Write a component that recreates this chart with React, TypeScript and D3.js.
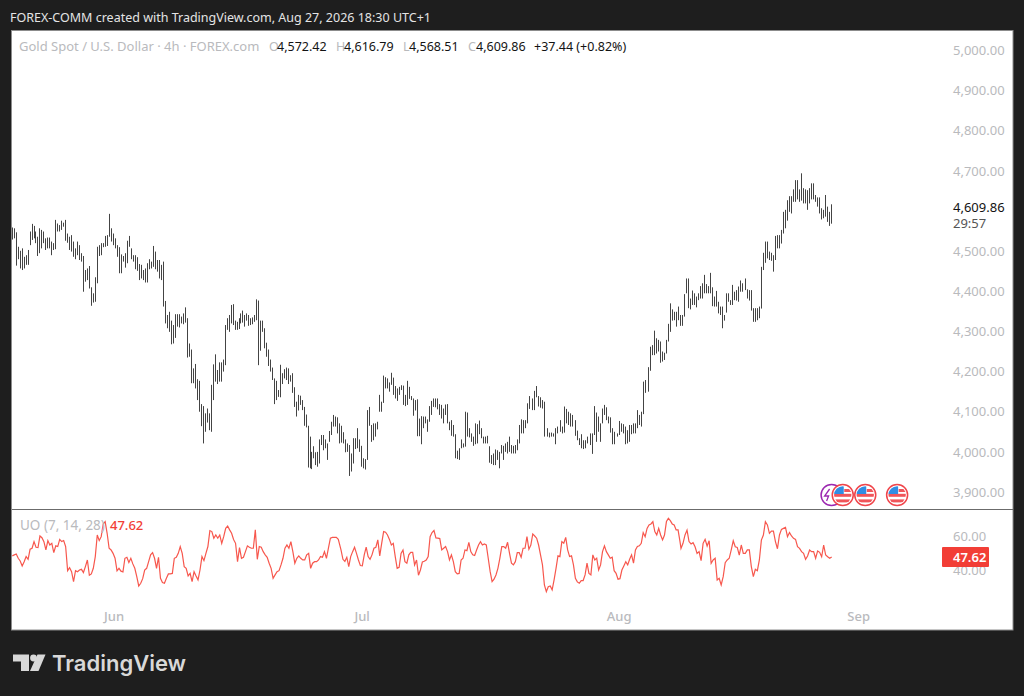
import { useEffect, useRef } from 'react';
import * as d3 from 'd3';

// 4h bars, oldest first
const highs = [
  4559,4557,4547,4511,4501,4507,4486,4490,4503,4549,4568,4563,4549,4536,4557,4553,4549,4532,4534,4534,
  4524,4520,4578,4569,4565,4576,4571,4578,4544,4536,4540,4524,4507,4524,4515,4495,4488,4453,4457,4463,
  4410,4395,4435,4511,4515,4520,4520,4538,4540,4593,4557,4544,4532,4515,4510,4492,4488,4495,4526,4538,
  4507,4490,4490,4485,4468,4466,4453,4457,4470,4480,4474,4513,4499,4478,4478,4466,4474,4376,4341,4349,
  4327,4316,4343,4343,4343,4337,4345,4360,4333,4270,4255,4208,4219,4181,4177,4119,4114,4096,4108,4096,
  4167,4218,4243,4204,4223,4223,4230,4316,4333,4341,4366,4368,4327,4324,4333,4345,4352,4341,4345,4341,
  4333,4335,4341,4380,4377,4327,4327,4308,4272,4255,4230,
  4210,4183,4177,4154,4217,4196,4206,4210,4208,4191,4196,4161,4125,4142,4140,4129,4112,4093,4065,4038,
  4000,4014,3999,4000,4031,4042,4042,4031,4021,4052,4075,4092,4088,4086,4071,4065,4049,4031,4021,4017,
  3996,4034,4034,4059,4031,4015,3984,3982,4104,4112,4067,4071,4071,4075,4142,4125,4190,4186,4183,4173,
  4197,4185,4164,4158,4162,4166,4165,4142,4177,4162,4139,4133,4129,4131,4083,4089,4088,4088,4081,4114,
  4127,4133,4133,4133,4119,4117,4108,4118,4119,4075,4079,4067,4044,4003,4009,4031,4021,4100,4098,4059,
  4046,4038,4071,4069,4078,4059,4038,4038,4040,4014,3992,3996,4006,4004,4000,4017,4015,4021,4025,4038,
  4017,4015,4017,4031,4067,4081,4079,4079,4121,
  4139,4133,4152,4164,4139,4136,4129,4125,4059,4048,4048,4046,4059,4063,4079,4063,4113,4107,4100,4096,
  4092,4079,4053,4034,4044,4029,4029,4038,4046,4046,4114,4098,4088,4071,4108,4117,4111,4088,4086,4059,
  4050,4046,4077,4071,4069,4063,4054,4067,4067,4071,4071,4104,4092,4100,4175,4179,4211,4262,4266,4302,
  4283,4279,4275,4250,4247,4279,4319,4370,4355,4349,4349,4362,4341,4341,4393,4432,4432,4382,4402,4395,
  4387,4395,4413,4420,4441,4418,4413,4446,4410,4387,4401,4374,4362,4362,4341,4395,4395,4378,4416,4399,
  4403,4412,4427,4420,4432,4405,4403,4403,4358,4358,4358,4362,
  4461,4496,4524,4524,4499,4496,4490,4538,4540,4540,4553,4598,4603,4627,4637,4637,4654,4677,4677,4654,
  4694,4657,4654,4652,4657,4669,4669,4640,4634,4634,4607,4603,4640,4611,4598,4616.79,
];

const lows = [
  4529,4532,4464,4480,4457,4453,4457,4466,4466,4515,4528,4532,4520,4488,4495,4507,4520,4503,4507,4507,
  4490,4503,4505,4549,4549,4553,4561,4526,4521,4503,4499,4486,4480,4490,4478,4474,4399,4424,4428,4407,
  4364,4372,4374,4420,4488,4490,4510,4511,4513,4536,4524,4515,4507,4486,4445,4445,4474,4459,4470,4511,
  4480,4474,4455,4451,4428,4432,4428,4422,4422,4455,4457,4461,4455,4449,4432,4428,4362,4320,4308,4299,
  4268,4270,4284,4312,4310,4320,4318,4322,4235,4237,4171,4171,4158,4129,4100,4064,4021,4050,4073,4054,
  4050,4129,4175,4169,4175,4175,4200,4216,4304,4299,4320,4316,4304,4304,4306,4320,4322,4312,4327,4314,
  4316,4318,4324,4328,4216,4252,4299,4258,4237,4214,4200,
  4179,4119,4129,4137,4136,4169,4183,4179,4169,4175,4147,4112,4088,4103,4117,4104,4065,4061,3961,3959,
  3957,3984,3967,3963,3971,4017,4004,4009,3980,4025,4042,4063,4063,4046,4021,4023,4021,3999,4000,3940,
  3951,3971,4007,4009,4000,3963,3959,3956,3980,4065,4025,4029,4038,4056,4100,4100,4122,4158,4158,4150,
  4167,4142,4133,4127,4142,4154,4117,4114,4117,4132,4129,4090,4103,4039,4039,4019,4059,4071,4050,4075,
  4092,4112,4111,4106,4092,4083,4071,4092,4071,4054,4040,4038,3984,3982,3980,4009,4011,4013,4038,4036,
  4025,4015,4019,4021,4044,4034,4021,4021,4021,3973,3970,3967,3967,3980,3959,3996,3980,4000,3996,4000,
  3996,3996,3996,4004,4021,4046,4046,4059,4071,
  4107,4104,4104,4136,4113,4110,4108,4038,4038,4036,4038,4038,4019,4046,4050,4046,4048,4071,4067,4063,
  4063,4040,4029,4017,4009,4007,4009,4021,4017,3995,4042,4025,4050,4025,4071,4092,4079,4071,4048,4019,
  4019,4038,4042,4050,4046,4019,4021,4025,4044,4046,4046,4059,4067,4063,4094,4147,4150,4202,4241,4241,
  4245,4250,4222,4225,4229,4245,4275,4299,4327,4328,4312,4328,4314,4314,4337,4395,4358,4355,4366,4366,
  4360,4378,4382,4382,4395,4395,4395,4395,4363,4362,4362,4345,4341,4308,4327,4347,4374,4366,4366,4378,
  4377,4374,4399,4399,4403,4382,4377,4352,4324,4324,4328,4333,
  4357,4453,4471,4482,4478,4476,4449,4478,4507,4507,4519,4544,4557,4576,4598,4594,4623,4623,4629,4623,
  4626,4619,4619,4603,4619,4629,4629,4623,4611,4594,4579,4582,4586,4573,4563,4568.51,
];

// Ultimate Oscillator
const uoValues = [
  48.3,48.9,49.4,46.9,45.3,42.4,44.9,47.9,46.3,52.2,52.8,56.7,53.4,53.2,60,59,56.7,51.8,57.3,54.7,
  55.7,50.2,54.2,53.8,58,56.7,57.3,53.8,39.6,41.4,39,33.2,39.6,39,40,40.4,38.5,42,45.9,36.9,
  37.7,41,47.9,60.6,57.3,59.6,67.1,68.5,61.6,52.8,51.8,49.8,46.9,39.5,41,39.3,38.9,46.9,47.5,44.4,
  46.9,43.6,41,36.1,30.6,32.2,34.9,40,41,44.9,48.9,50.2,46.9,41,47.5,35.1,32.6,32.2,35.1,37.7,
  37.7,38,46.9,47.5,49.8,53.8,49.8,42,41,36.5,38,33.2,39,36.5,34.2,40,47.9,45.5,49.8,53.8,
  63.2,62.6,58.7,60.6,58.7,60.6,55.7,59.6,64.5,65.9,63.6,61.6,58,55.7,44.9,53.2,46.9,47.5,50.8,54.2,
  53.4,52.8,52.8,63.6,46.3,53.8,53.4,50.8,48.9,47.5,44,41,35.1,37.1,39,39.6,43,46.9,52.8,54.7,
  52.8,56.7,50.8,44,46.9,48.3,46.9,45.9,45.9,48.9,49.8,41,44,44.9,44.9,45.9,47.9,47.5,50.8,46.9,
  52.8,58.7,59.2,59.2,59.2,58,
  51.8,46.3,45.1,47.5,42,47.9,50.8,53.4,49.8,45.9,42.6,42.4,48.9,53.4,47.9,46.3,48.9,52.8,53.4,57.7,
  48.3,55.7,62.6,62.2,60.6,58,54.7,55.7,47.9,41,41.6,49.8,51.8,44.9,44,48.9,50.4,50.4,43,45.9,
  36.9,40,44.7,45.1,45.9,47.9,59.6,62,63.2,58.9,58.7,58.5,51.8,52.8,53.8,50.8,45.9,48.9,44.9,39,
  37.7,38,45.9,46.9,51.8,51.4,56.3,50.8,48.9,48.5,51.8,54.7,56.7,54.7,55.3,54.7,46.9,39,33.2,34.6,
  37.1,41,46.9,53.8,53.8,52.8,56.3,49.8,44,43,44.9,50.2,50.2,47.5,52.8,52.8,59.6,52.2,54.7,61.2,
  60,58.7,54.7,48.9,43,31.2,27.3,30.2,30.6,28.3,34.2,41,48.3,47.9,56.7,55.7,59.2,51.8,47.9,48.3,
  43,35.1,33,32.2,33.8,33.8,37.1,44,38,37.1,48.9,45.9,46.9,40,43,50.8,54.2,50.8,48.9,46.9,
  47.5,39.6,38,34.6,34.9,40,42.4,44.9,43,46.3,48.9,44,51.8,53.8,54.2,55.7,62,59.6,64.5,66.5,
  67.1,68.5,62.6,60.6,64.5,60.6,57.7,60.6,68.5,70.4,69,67.1,66.5,63.6,63.6,56.7,
  52.7,55.7,60.6,63.5,56.7,55.3,56.1,53.7,49.8,50.8,45.5,55.7,58,54.1,57.2,43.9,45.9,46.9,34.1,35.1,
  31.2,36.1,44.3,45.9,46.9,51.8,57.2,53.7,53.3,48.8,54.7,49.8,49.8,51.8,51.8,42,36.1,40.4,39.6,45.9,
  57.6,60.6,68.4,66.5,61.6,62.9,62.9,56.7,52.5,60.6,63.9,64.5,65.1,59.6,62,60,58.6,58,53.7,52.7,
  50.8,49.8,46.3,48.2,51.8,50.8,50.8,46.9,51.2,50.4,47.8,54.7,48.8,47.8,46.9,47.62,
];

const priceTicks = [3900, 4000, 4100, 4200, 4300, 4400, 4500, 4700, 4800, 4900, 5000];
const uoTicks = [40, 60];
const monthLabels = ['Jun', 'Jul', 'Aug', 'Sep'];
const monthPositions = [51.5, 176.2, 302, 420.9]; // in bar numbers, Sep is past the last bar
const flagEvents = [412.9, 424.2, 440.2]; // economic calendar flags, in bar numbers
const lastPrice = 4609.86;
const lastUo = 47.62;
const countdown = '29:57';

const legendItems = [
  { text: 'O', x: 269, value: false }, { text: '4,572.42', x: 277, value: true },
  { text: 'H', x: 336, value: false }, { text: '4,616.79', x: 344, value: true },
  { text: 'L', x: 403, value: false }, { text: '4,568.51', x: 409, value: true },
  { text: 'C', x: 468, value: false }, { text: '4,609.86', x: 476, value: true },
  { text: '+37.44 (+0.82%)', x: 534, value: true },
];

const FONT = '"Noto Sans", sans-serif';
const LIGHT = '#b9babd';

export default function App() {
  const svgRef = useRef<SVGSVGElement>(null);

  useEffect(() => {
    if (!svgRef.current) return;
    const svg = d3.select(svgRef.current);
    svg.selectAll('*').remove();

    // Time scale pinned at a few recognisable bars so the spacing does not drift
    const x = d3.scaleLinear()
      .domain([0, 49, 96, 123, 130, 170, 259, 289, 327, 347, 371, 407])
      .range([12.3, 109, 203.7, 256.7, 270.3, 349.7, 527.7, 592.3, 670.7, 710.3, 759.3, 831]);
    const xUo = d3.scaleLinear()
      .domain([0, 165, 166, 341, 342, uoValues.length - 1])
      .range([12.3, 338.3, 341, 680, 681, 831.7]);
    const y = d3.scaleLinear().domain([3900, 5000]).range([492, 50.5]);
    const yUo = d3.scaleLinear().domain([40, 60]).range([570, 536]);

    // Page and panel
    svg.append('rect').attr('width', 1024).attr('height', 696).attr('fill', '#1e1e1e');
    svg.append('rect').attr('x', 11.5).attr('y', 30.5).attr('width', 1001.5).attr('height', 599.5)
      .attr('fill', '#fff').attr('stroke', '#8c8c8c').attr('stroke-width', 1);
    svg.append('line').attr('x1', 12).attr('x2', 1013).attr('y1', 509.5).attr('y2', 509.5)
      .attr('stroke', '#6b6b6b').attr('stroke-width', 1.2);

    const text = (s: string, px: number, py: number, size: number, fill: string, weight = 400) =>
      svg.append('text').attr('x', px).attr('y', py).attr('fill', fill)
        .attr('font-family', FONT).attr('font-size', size).attr('font-weight', weight).text(s);

    text('FOREX-COMM created with TradingView.com, Aug 27, 2026 18:30 UTC+1', 10, 22, 12.5, '#e4e4e4');
    text('Gold Spot / U.S. Dollar · 4h · FOREX.com', 19, 51, 13, LIGHT);
    legendItems.forEach(d => text(d.text, d.x, 51, 12.5, d.value ? '#131313' : LIGHT));

    // OHLC bars: high-low stems, kept on pixel centres so they stay thin
    const snap = (v: number) => Math.floor(v) + 0.5;
    svg.append('g').selectAll('line').data(highs).join('line')
      .attr('x1', (_, i) => snap(x(i))).attr('x2', (_, i) => snap(x(i)))
      .attr('y1', d => y(d)).attr('y2', (_, i) => y(lows[i]))
      .attr('stroke', '#444').attr('stroke-width', 1);

    // Price axis
    const priceAxis = d3.axisRight(y).tickValues(priceTicks).tickSize(0).tickPadding(0)
      .tickFormat(d => d3.format(',.2f')(+d));
    const gPrice = svg.append('g').attr('transform', 'translate(953,0)').call(priceAxis);
    gPrice.select('.domain').remove();
    gPrice.selectAll('text').attr('fill', LIGHT).attr('font-family', FONT).attr('font-size', 13);

    text(d3.format(',.2f')(lastPrice), 953, 212, 13, '#131313');
    text(countdown, 953, 228, 13, '#555');

    // Event markers on the time line
    const markerY = 495;
    svg.append('circle').attr('cx', x(407.3)).attr('cy', markerY).attr('r', 10.5)
      .attr('fill', '#fff').attr('stroke', '#9c27b0').attr('stroke-width', 1.5);
    svg.append('path').attr('transform', `translate(${x(407.3) - 4},${markerY})`)
      .attr('d', 'M2 -6L-3 1H1L-1 6').attr('fill', 'none').attr('stroke', '#9c27b0').attr('stroke-width', 1.3);
    const defs = svg.append('defs');
    flagEvents.forEach((b, k) => {
      const cx = x(b);
      defs.append('clipPath').attr('id', `flag${k}`).append('circle')
        .attr('cx', cx).attr('cy', markerY).attr('r', 8.7);
      svg.append('circle').attr('cx', cx).attr('cy', markerY).attr('r', 10.5)
        .attr('fill', '#fff').attr('stroke', '#f0444a').attr('stroke-width', 1.5);
      const flag = svg.append('g').attr('clip-path', `url(#flag${k})`);
      [-1.2, 4.4].forEach(dy => flag.append('rect').attr('x', cx - 10).attr('y', markerY + dy)
        .attr('width', 20).attr('height', 3).attr('fill', '#f0555a'));
      flag.append('rect').attr('x', cx + 1.5).attr('y', markerY - 6).attr('width', 9).attr('height', 3)
        .attr('fill', '#f0555a');
      flag.append('rect').attr('x', cx - 10).attr('y', markerY - 10).attr('width', 11).attr('height', 9)
        .attr('fill', '#2f8de4');
    });

    // Oscillator pane
    const uoLine = d3.line<number>().x((_, i) => xUo(i)).y(d => yUo(d));
    svg.append('path').datum(uoValues).attr('fill', 'none').attr('stroke', '#f7574d')
      .attr('stroke-width', 1.2).attr('d', uoLine);

    text('UO (7, 14, 28)', 20, 530, 13.5, LIGHT);
    text(lastUo.toFixed(2), 110, 530, 13, '#f23e36', 500);

    const uoAxis = d3.axisRight(yUo).tickValues(uoTicks).tickSize(0).tickPadding(0)
      .tickFormat(d => d3.format('.2f')(+d));
    const gUo = svg.append('g').attr('transform', 'translate(953,0)').call(uoAxis);
    gUo.select('.domain').remove();
    gUo.selectAll('text').attr('fill', LIGHT).attr('font-family', FONT).attr('font-size', 13);

    svg.append('rect').attr('x', 942).attr('y', yUo(lastUo) - 10).attr('width', 47).attr('height', 20)
      .attr('rx', 1).attr('fill', '#f23e36');
    text(lastUo.toFixed(2), 953, yUo(lastUo) + 4.5, 13, '#fff', 600);

    // Time axis
    monthLabels.forEach((m, i) => {
      text(m, x(monthPositions[i]), 621, 13, LIGHT, 500).attr('text-anchor', 'middle');
    });

    // Logo
    const logo = svg.append('g').attr('fill', '#d8d8d8');
    logo.append('path').attr('d', 'M13 654.5h16v16.5h-8v-9.5h-8z');
    logo.append('circle').attr('cx', 33.5).attr('cy', 658).attr('r', 3.4);
    logo.append('path').attr('d', 'M37.5 654.5h8l-7 16.5h-8.5z');
    text('TradingView', 52, 671, 22, '#d8d8d8', 600).attr('font-family', 'Inter, sans-serif');
  }, []);

  return (
    <svg
      ref={svgRef}
      width={1024}
      height={696}
      style={{ position: 'absolute', left: 0, top: 0, display: 'block' }}
    />
  );
}
